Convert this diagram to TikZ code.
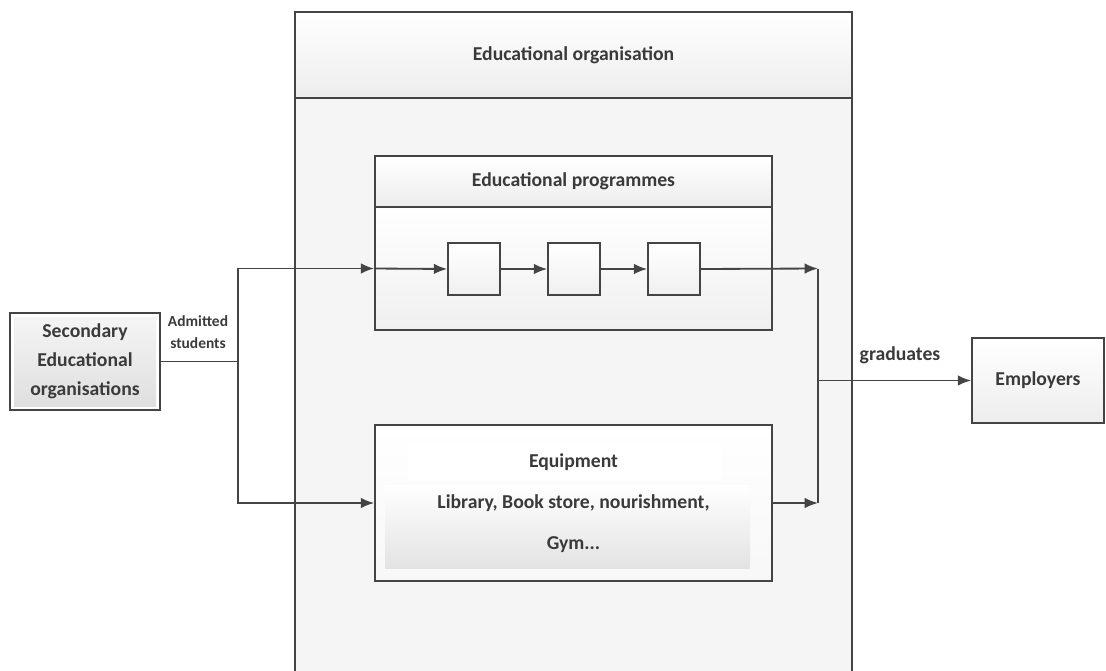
\documentclass[tikz,border=0pt]{standalone}
\usepackage{fontspec}
\setmainfont{Carlito}
\usetikzlibrary{arrows.meta}
\definecolor{ink}{HTML}{3a3a3a}
\definecolor{edge}{HTML}{444444}

\begin{document}
\begin{tikzpicture}[x=0.025cm,y=-0.025cm,
    txt/.style={text=ink,font=\bfseries\fontsize{14}{17}\selectfont},
    box/.style={draw=edge,line width=1.1pt,inner sep=0pt,txt},
    bar/.style={box,top color=white,bottom color=gray!14},
    cell/.style={box,top color=white,bottom color=gray!12,minimum width=1.3cm,minimum height=1.3cm},
    wire/.style={draw=edge,line width=1.3pt},
    arr/.style={wire,-{Latex[length=9.5pt,width=7.5pt]}}]
  \useasboundingbox (0,0) rectangle (1106,671);
  % the organisation
  \begin{scope}
    \clip (0,0) rectangle (1106,671);
    \fill[gray!8] (295,98) rectangle (852,700);
    \draw[box] (295,700) -- (295,98) -- (852,98) -- (852,700);
  \end{scope}
  \node[bar,minimum width=13.925cm,minimum height=2.15cm] (orgtitle) at (573.5,55) {Educational organisation};

  % programmes
  \node[bar,minimum width=9.925cm,minimum height=1.275cm] (progtitle) at (573.5,181.5) {Educational programmes};
  \node[box,top color=white,bottom color=gray!12,minimum width=9.925cm,minimum height=3.075cm] (prog) at (573.5,268.5) {};
  \node[cell] (s1) at (474,269) {};
  \node[cell] (s2) at (574,269) {};
  \node[cell] (s3) at (674,269) {};

  % equipment
  \shade[top color=white,bottom color=gray!6] (375,424) rectangle (772,580);
  \shade[top color=white,bottom color=gray!22] (385,485) rectangle (750,568);
  \fill[white] (408,445) rectangle (722,481);
  \node[box,minimum width=9.925cm,minimum height=3.9cm,align=center,
        font=\bfseries\fontsize{14}{29}\selectfont] (equip) at (573.5,503)
        {Equipment\\Library, Book store, nourishment,\\Gym...};

  % secondary schools
  \fill[white] (10,313) rectangle (160,410);
  \shade[top color=gray!8,bottom color=gray!25] (14,317) rectangle (156,406);
  \node[box,minimum width=3.75cm,minimum height=2.425cm,align=center,
        font=\bfseries\fontsize{14}{20.6}\selectfont] (sec) at (85,361.5)
        {Secondary\\Educational\\organisations};

  % employers
  \node[bar,minimum width=3.3cm,minimum height=2.125cm] (empl) at (1038,380.5) {Employers};

  % junctions
  \coordinate (split) at (238,361.5);
  \coordinate (jtop) at (818,268.5);
  \coordinate (jbot) at (818,503);
  \coordinate (jmid) at (818,380.5);

  \draw[wire] (sec.east) -- (split);
  \draw[arr] (split) |- (prog.west);
  \draw[arr] (split) |- (equip.west);
  \draw[arr] (prog.west) -- (s1.west);
  \draw[arr] (s1.east) -- (s2.west);
  \draw[arr] (s2.east) -- (s3.west);
  \draw[arr] (s3.east) -- (jtop);
  \draw[arr] (equip.east) -- (jbot);
  \draw[wire] (jtop) -- (jbot);
  \draw[arr] (jmid) -- (empl.west);

  \node[txt,font=\bfseries\fontsize{11}{16}\selectfont,align=center] (admit) at (198,332) {Admitted\\students};
  \node[txt] (grad) at (900,355) {graduates};
\end{tikzpicture}
\end{document}
